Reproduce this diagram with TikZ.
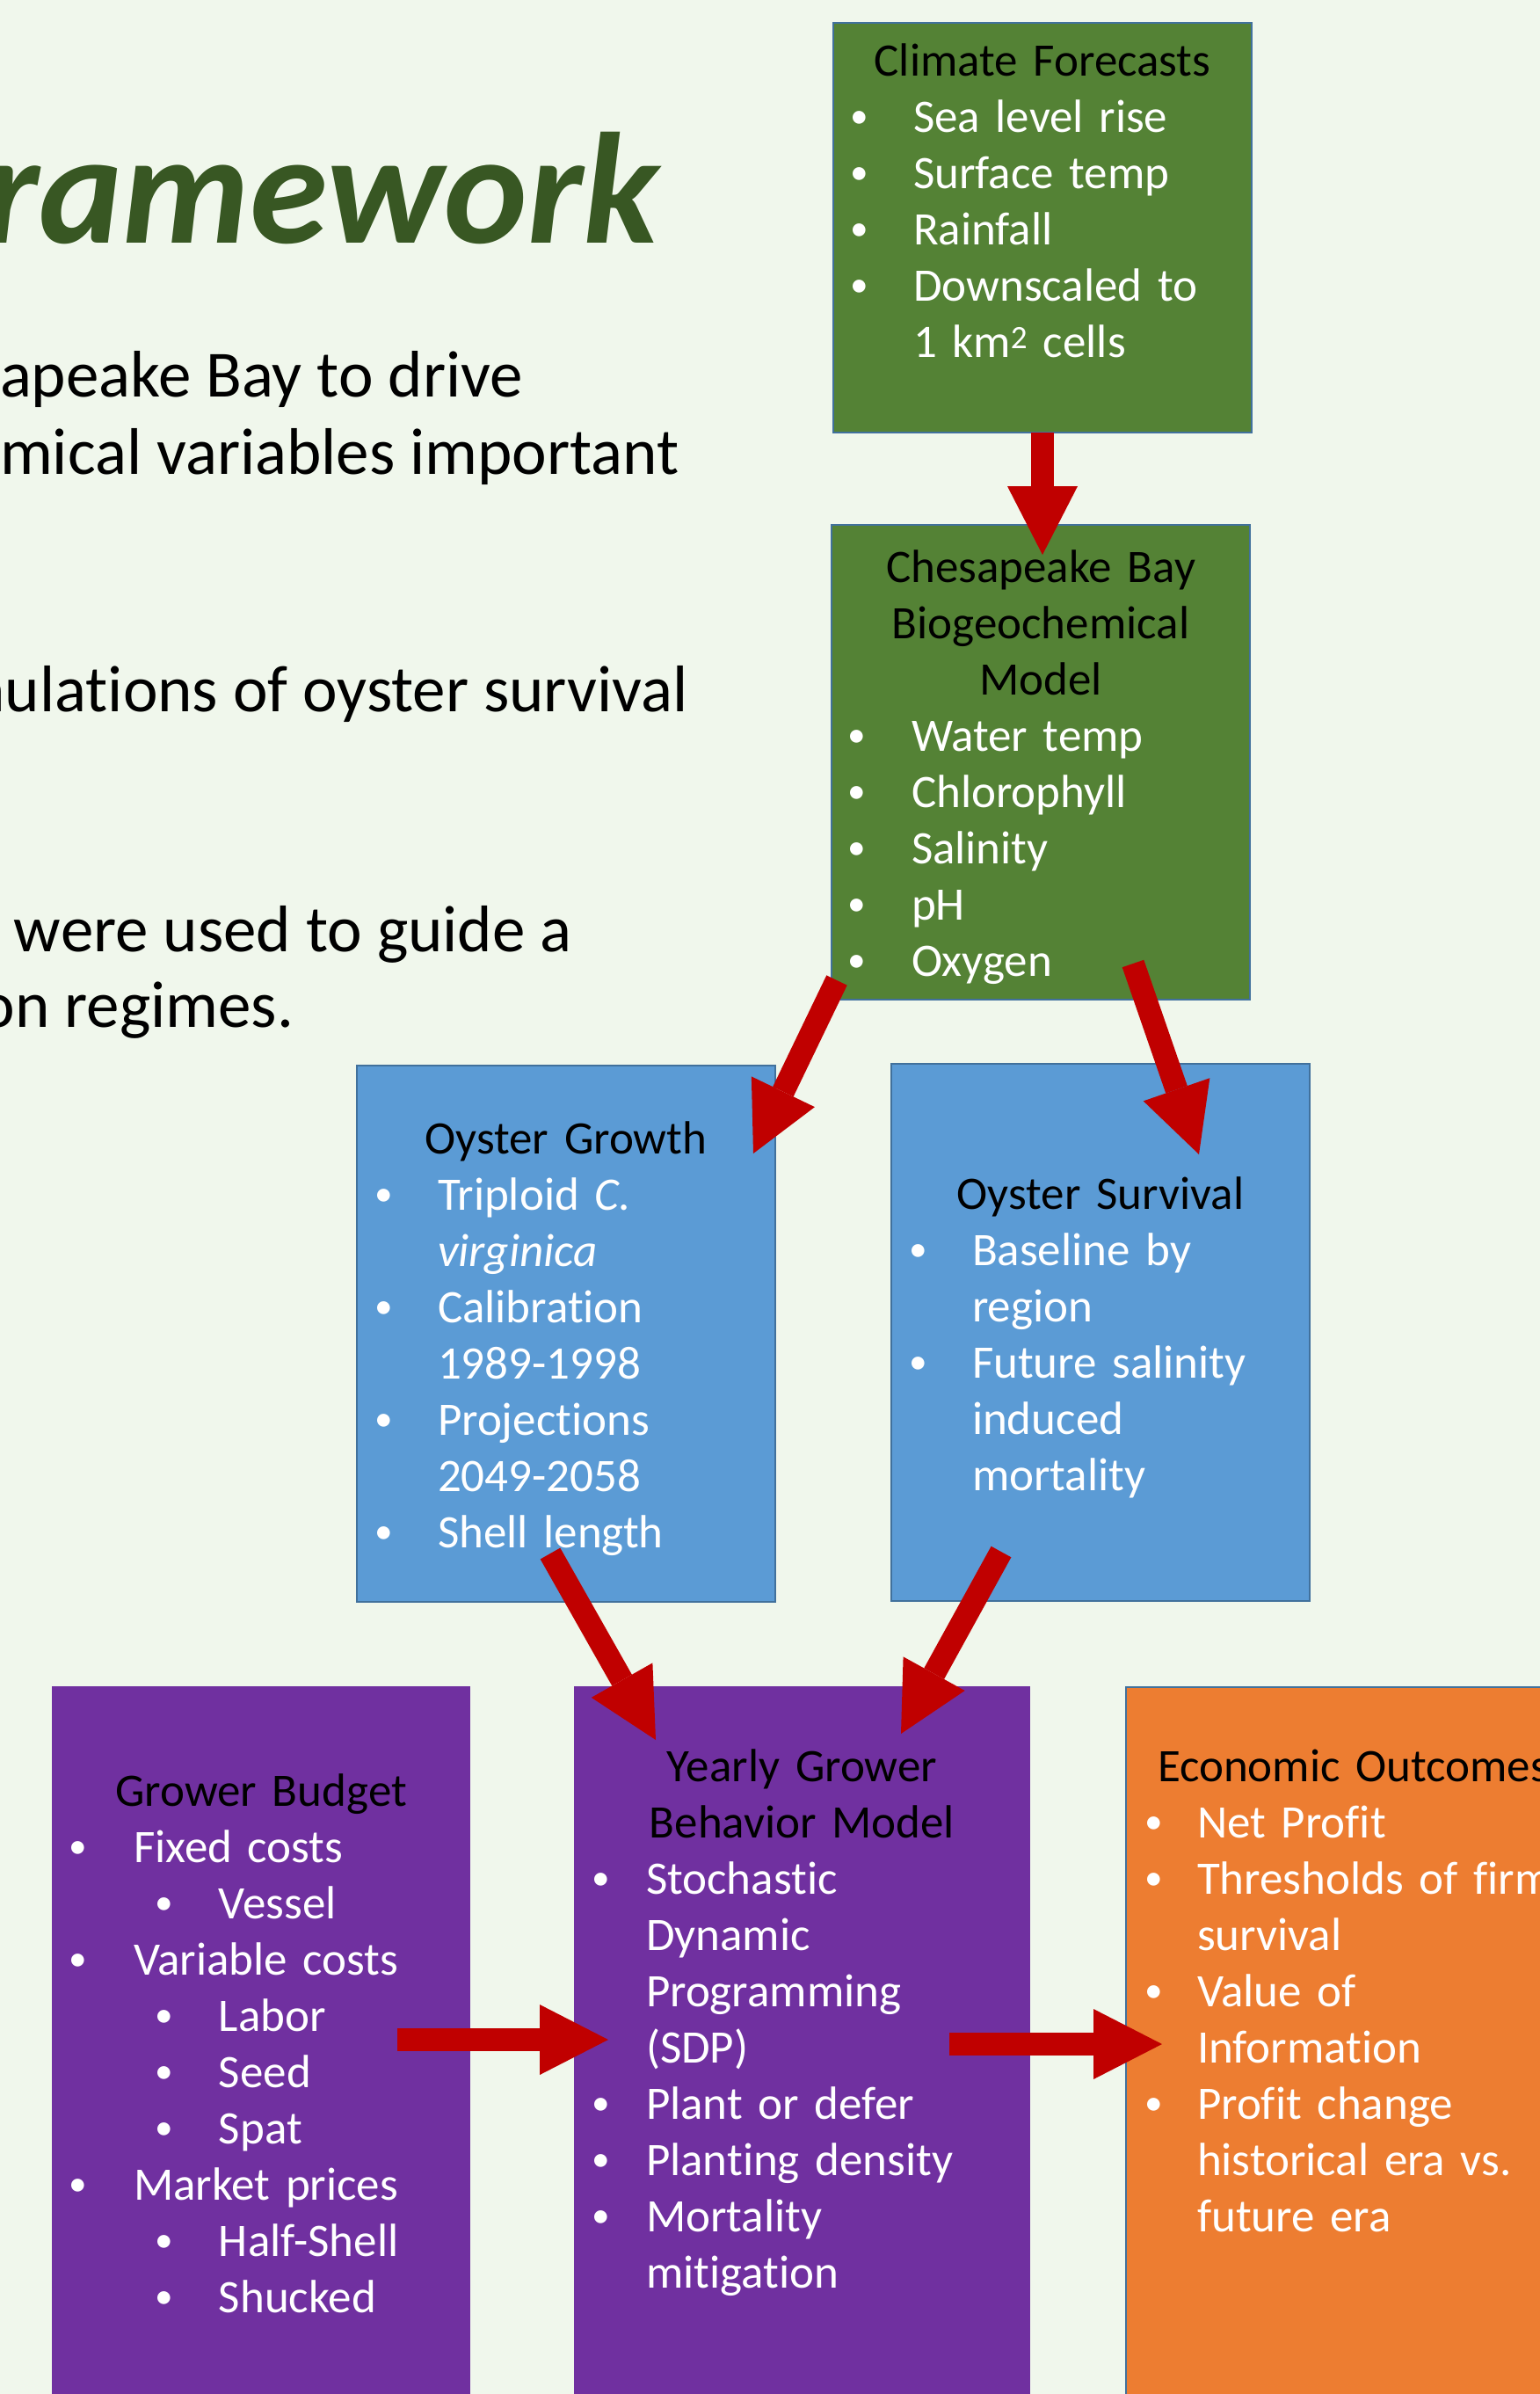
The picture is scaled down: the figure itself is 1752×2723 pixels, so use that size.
\documentclass[tikz,border=0pt]{standalone}
\usepackage{fontspec}
\setmainfont{Carlito}[Ligatures=CommonOff]
\usetikzlibrary{calc}
\setlength{\parskip}{0pt}
\definecolor{bgc}{HTML}{F0F7EC}
\definecolor{boxgreen}{HTML}{548235}
\definecolor{boxblue}{HTML}{5B9BD5}
\definecolor{boxpurple}{HTML}{7030A0}
\definecolor{boxorange}{HTML}{ED7D31}
\definecolor{edgeblue}{HTML}{41719C}
\definecolor{arrowred}{HTML}{C00000}
\definecolor{titlegreen}{HTML}{385723}
\newcommand\bul{\raisebox{4.5pt}{\scalebox{0.78}{\textbullet}}}
\newcommand\hd[1]{\par\noindent\makebox[\hsize]{\strut\color{black}#1}}
\newcommand\hdl[2]{\par\noindent\hspace*{#1}\mbox{\strut\color{black}#2}}
\newcommand\bl[3]{\par\noindent\hspace*{#1}\makebox[0pt]{\strut\bul}\hspace*{\dimexpr#2-#1\relax}\mbox{#3}}
\newcommand\ct[2]{\par\noindent\hspace*{#1}\mbox{\strut#2}}
\newcommand\bigarrow[3]{%
  \coordinate (#3hb) at ($(#2)!78pt!(#1)$);
  \draw[arrowred, line width=26pt] (#1) -- (#3hb);
  \fill[arrowred] (#2) -- ($(#3hb)!40pt!90:(#2)$) -- ($(#3hb)!40pt!-90:(#2)$) -- cycle;}
\begin{document}
\begin{tikzpicture}[x=1pt,y=-1pt,
  shapebox/.style={anchor=north west, inner sep=0pt, outer sep=0pt, rectangle},
  gbox/.style={shapebox, fill=boxgreen, draw=edgeblue, line width=2pt},
  bbox/.style={shapebox, fill=boxblue, draw=edgeblue, line width=2pt},
  pbox/.style={shapebox, fill=boxpurple},
  obox/.style={shapebox, fill=boxorange, draw=edgeblue, line width=2pt},
  boxtext/.style={anchor=north west, inner sep=0pt, outer sep=0pt, text width=#1,
    text=white, font=\fontsize{53}{64}\selectfont},
  bodytext/.style={inner sep=0pt, outer sep=0pt, text=black, font=\fontsize{75}{90}\selectfont}]
\useasboundingbox (0,0) rectangle (1752,2723);
\fill[bgc] (0,0) rectangle (1752,2723);
\clip (0,0) rectangle (1752,2723);

% left text
\node[inner sep=0pt, outer sep=0pt, anchor=base east, text=titlegreen,
  font=\fontsize{180}{216}\selectfont\bfseries\itshape] (title) at (750,276) {framework};
\node[bodytext, anchor=base west] (b1) at (0,451) {apeake Bay to drive};
\node[bodytext, anchor=base west] (b2) at (0,539) {mical variables important};
\node[bodytext, anchor=base east] (b3) at (783,809) {nulations of oyster survival};
\node[bodytext, anchor=base west] (b4) at (16,1082) {were used to guide a};
\node[bodytext, anchor=base east] (b5) at (334,1168) {on regimes.};

% boxes
\node[gbox, minimum width=476pt, minimum height=466pt] (clim) at (948,26) {};
\node[gbox, minimum width=476pt, minimum height=540pt] (cbay) at (946,597) {};
\node[bbox, minimum width=476pt, minimum height=610pt] (grow) at (406,1212) {};
\node[bbox, minimum width=476pt, minimum height=611pt] (surv) at (1014,1210) {};
\node[pbox, minimum width=476pt, minimum height=900pt] (budg) at (59,1918) {};
\node[pbox, minimum width=519pt, minimum height=900pt] (yrly) at (653,1918) {};
\node[obox, minimum width=520pt, minimum height=900pt] (econ) at (1281,1919) {};

% box texts
\node[boxtext=476pt] (tclim) at (948,22) {%
  \hd{Climate Forecasts}
  \bl{30pt}{91pt}{Sea level rise}
  \bl{30pt}{91pt}{Surface temp}
  \bl{30pt}{91pt}{Rainfall}
  \bl{30pt}{91pt}{Downscaled to}
  \ct{91pt}{1 km\textsuperscript{2} cells}};
\node[boxtext=476pt] (tcbay) at (946,598) {%
  \hd{Chesapeake Bay}
  \hd{Biogeochemical}
  \hd{Model}
  \bl{29pt}{91pt}{Water temp}
  \bl{29pt}{91pt}{Chlorophyll}
  \bl{29pt}{91pt}{Salinity}
  \bl{29pt}{91pt}{pH}
  \bl{29pt}{91pt}{Oxygen}};
\node[boxtext=476pt] (tgrow) at (406,1248) {%
  \hd{Oyster Growth}
  \bl{31pt}{92pt}{Triploid \textit{C.}}
  \ct{92pt}{\textit{virginica}}
  \bl{31pt}{92pt}{Calibration}
  \ct{92pt}{1989-1998}
  \bl{31pt}{92pt}{Projections}
  \ct{92pt}{2049-2058}
  \bl{31pt}{92pt}{Shell length}};
\node[boxtext=476pt] (tsurv) at (1014,1311) {%
  \hd{Oyster Survival}
  \bl{31pt}{92pt}{Baseline by}
  \ct{92pt}{region}
  \bl{31pt}{92pt}{Future salinity}
  \ct{92pt}{induced}
  \ct{92pt}{mortality}};
\node[boxtext=476pt] (tbudg) at (59,1990) {%
  \hd{Grower Budget}
  \bl{30pt}{93pt}{Fixed costs}
  \bl{128pt}{190pt}{Vessel}
  \bl{30pt}{93pt}{Variable costs}
  \bl{128pt}{190pt}{Labor}
  \bl{128pt}{190pt}{Seed}
  \bl{128pt}{190pt}{Spat}
  \bl{30pt}{93pt}{Market prices}
  \bl{128pt}{190pt}{Half-Shell}
  \bl{128pt}{190pt}{Shucked}};
\node[boxtext=519pt] (tyrly) at (653,1962) {%
  \hd{Yearly Grower}
  \hd{Behavior Model}
  \bl{31pt}{82pt}{Stochastic}
  \ct{82pt}{Dynamic}
  \ct{82pt}{Programming}
  \ct{82pt}{(SDP)}
  \bl{31pt}{82pt}{Plant or defer}
  \bl{31pt}{82pt}{Planting density}
  \bl{31pt}{82pt}{Mortality}
  \ct{82pt}{mitigation}};
\node[boxtext=520pt] (tecon) at (1281,1962) {%
  \hdl{36pt}{Economic Outcomes}
  \bl{32pt}{81pt}{Net Profit}
  \bl{32pt}{81pt}{Thresholds of firm}
  \ct{81pt}{survival}
  \bl{32pt}{81pt}{Value of}
  \ct{81pt}{Information}
  \bl{32pt}{81pt}{Profit change}
  \ct{81pt}{historical era vs.}
  \ct{81pt}{future era}};

% arrows
\coordinate (a1t) at (1186,631);
\coordinate (a2s) at (952,1115);
\coordinate (a2t) at (857,1312);
\coordinate (a3s) at (1289,1096);
\coordinate (a3t) at (1364,1313);
\coordinate (a4s) at (626,1767);
\coordinate (a4t) at (746,1979);
\coordinate (a5s) at (1139,1765);
\coordinate (a5t) at (1025,1972);
\coordinate (a6s) at (452,2320);
\coordinate (a6t) at (692,2320);
\coordinate (a7s) at (1080,2325);
\coordinate (a7t) at (1322,2325);
\bigarrow{clim.south}{a1t}{aa}
\bigarrow{a2s}{a2t}{ab}
\bigarrow{a3s}{a3t}{ac}
\bigarrow{a4s}{a4t}{ad}
\bigarrow{a5s}{a5t}{ae}
\bigarrow{a6s}{a6t}{af}
\bigarrow{a7s}{a7t}{ag}
\end{tikzpicture}
\end{document}
